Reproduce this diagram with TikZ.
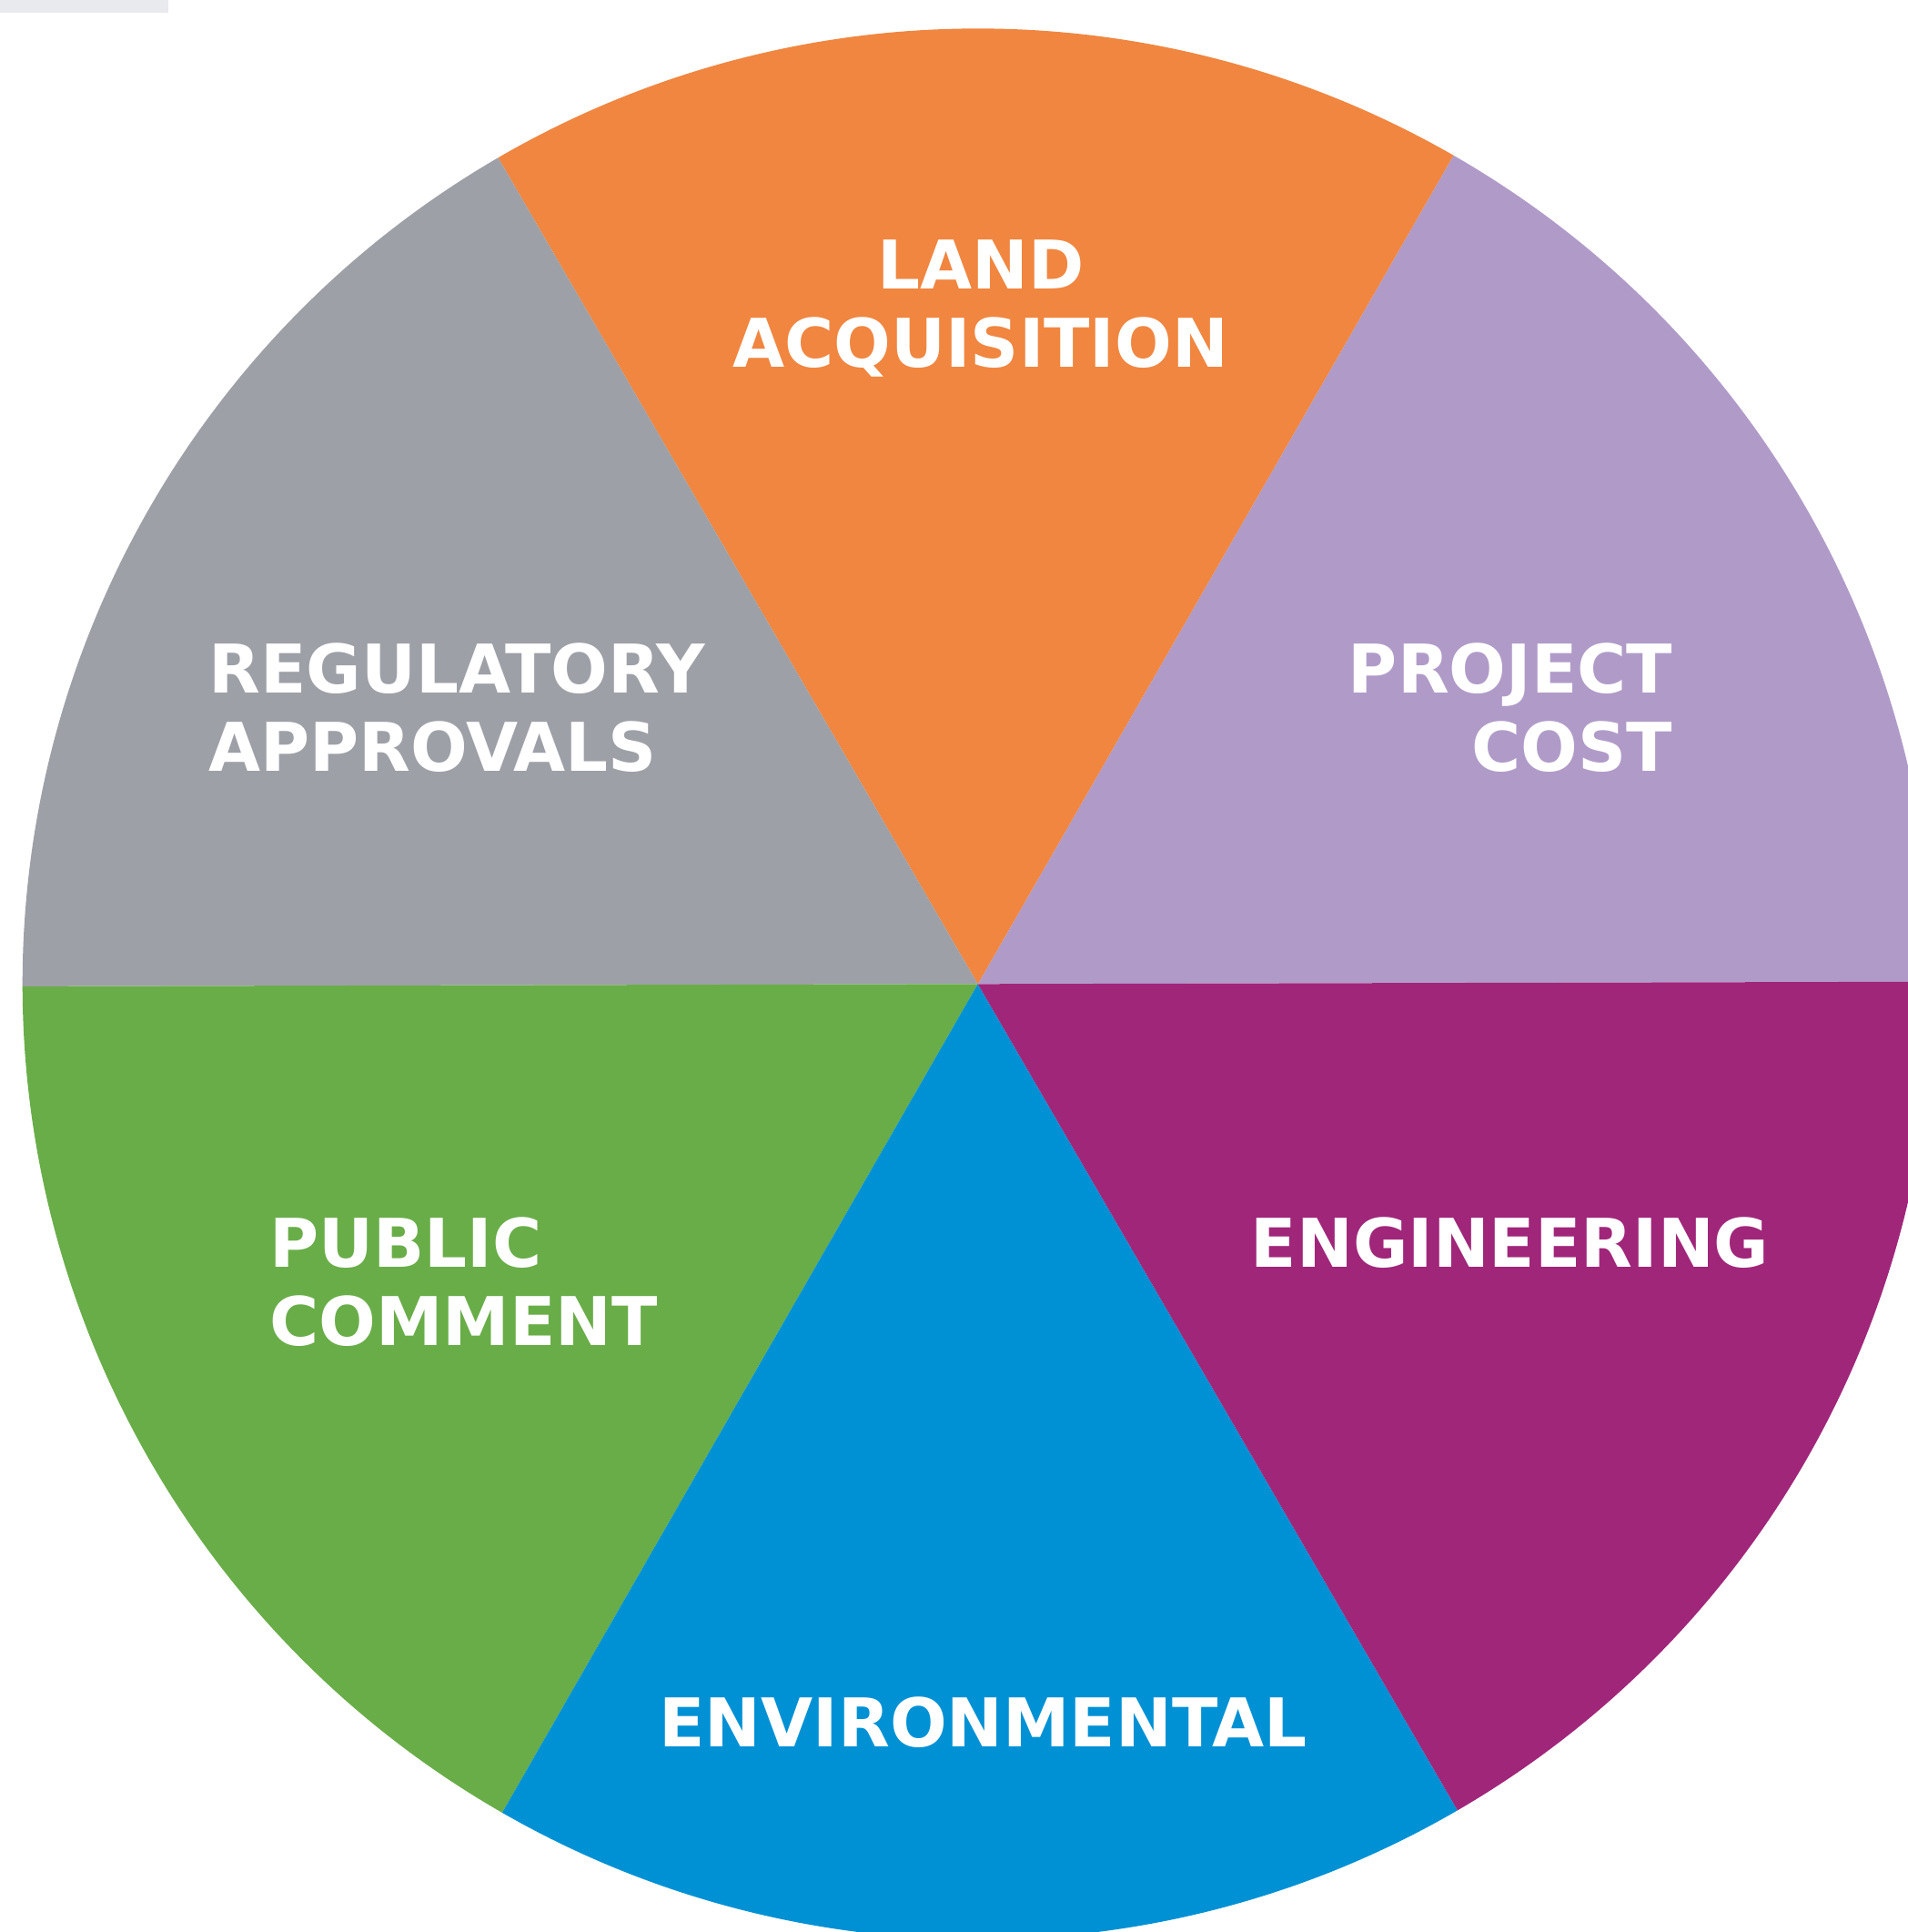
\documentclass[tikz,border=0pt]{standalone}
\usepackage{fontspec}
\usepackage{tikz}
\newfontfamily\wedgefont{DejaVu Sans}
\definecolor{landorange}{RGB}{240,134,64}
\definecolor{costlilac}{RGB}{176,155,200}
\definecolor{engmagenta}{RGB}{160,38,122}
\definecolor{envblue}{RGB}{0,145,213}
\definecolor{pubgreen}{RGB}{105,173,72}
\definecolor{reggray}{RGB}{158,160,167}
\definecolor{tabgray}{RGB}{233,234,238}
\tikzstyle{wedgelabel}=[text=white,inner sep=0pt,
font=\wedgefont\bfseries\fontsize{21}{24.5}\selectfont]

\begin{document}
\begin{tikzpicture}
\useasboundingbox (-10.747,-10.417) rectangle (10.223,10.813);
\clip (-10.747,-10.417) rectangle (10.223,10.813);
\fill[white] (-10.747,-10.417) rectangle (10.223,10.813);
\fill[tabgray] (-10.747,10.813) rectangle (-8.892,10.678);
% the six wedges
\begin{scope}[rotate=0.14]
\fill[costlilac] (0,0) -- (0:10.5) arc[start angle=0,end angle=60,radius=10.5] -- cycle;
\fill[landorange] (0,0) -- (60:10.5) arc[start angle=60,end angle=120,radius=10.5] -- cycle;
\fill[reggray] (0,0) -- (120:10.5) arc[start angle=120,end angle=180,radius=10.5] -- cycle;
\fill[pubgreen] (0,0) -- (180:10.5) arc[start angle=180,end angle=240,radius=10.5] -- cycle;
\fill[envblue] (0,0) -- (240:10.5) arc[start angle=240,end angle=300,radius=10.5] -- cycle;
\fill[engmagenta] (0,0) -- (300:10.5) arc[start angle=300,end angle=360,radius=10.5] -- cycle;
\end{scope}
% labels
\node[wedgelabel,anchor=base] (land1) at (0.03,7.64) {LAND};
\node[wedgelabel,anchor=base] (land2) at (0.03,6.78) {ACQUISITION};
\node[wedgelabel,anchor=base east] (cost1) at (7.64,3.20) {PROJECT};
\node[wedgelabel,anchor=base east] (cost2) at (7.64,2.34) {COST};
\node[wedgelabel,anchor=base west] (reg1) at (-8.46,3.20) {REGULATORY};
\node[wedgelabel,anchor=base west] (reg2) at (-8.46,2.34) {APPROVALS};
\node[wedgelabel,anchor=base west] (pub1) at (-7.79,-3.11) {PUBLIC};
\node[wedgelabel,anchor=base west] (pub2) at (-7.79,-3.97) {COMMENT};
\node[wedgelabel,anchor=base] (eng) at (5.85,-3.11) {ENGINEERING};
\node[wedgelabel,anchor=base] (env) at (0.06,-8.38) {ENVIRONMENTAL};
\end{tikzpicture}
\end{document}
